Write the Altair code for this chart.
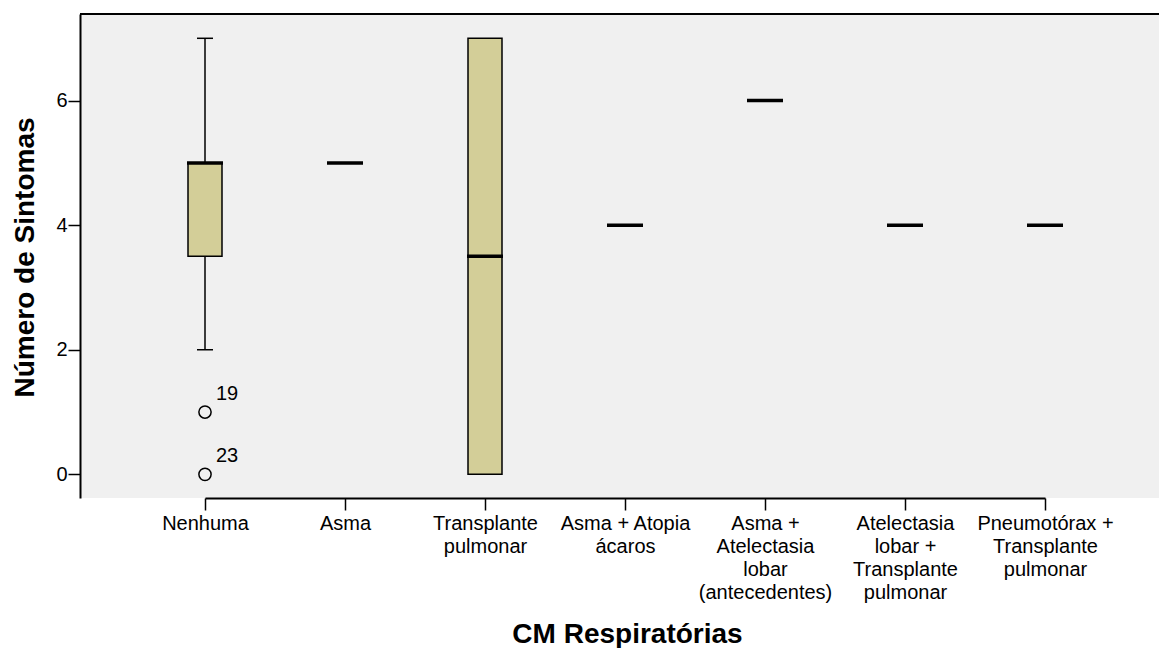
import altair as alt
import pandas as pd

# ---- data ----
categories = [
    "Nenhuma",
    "Asma",
    "Transplante|pulmonar",
    "Asma + Atopia|ácaros",
    "Asma +|Atelectasia|lobar|(antecedentes)",
    "Atelectasia|lobar +|Transplante|pulmonar",
    "Pneumotórax +|Transplante|pulmonar",
]
medians = [5, 5, 3.5, 4, 6, 4, 4]
q1_vals = [3.5, None, 0, None, None, None, None]
q3_vals = [5, None, 7, None, None, None, None]
whisker_lo = [2, None, None, None, None, None, None]
whisker_hi = [7, None, None, None, None, None, None]

outlier_cat = ["Nenhuma", "Nenhuma"]
outlier_val = [1, 0]
outlier_id = ["19", "23"]

FONT = "Liberation Sans"
W, H = 1079, 484

stats = pd.DataFrame({
    "cat": categories, "med": medians, "q1": q1_vals, "q3": q3_vals,
    "lo": whisker_lo, "hi": whisker_hi,
})
outl = pd.DataFrame({"cat": outlier_cat, "val": outlier_val, "id": outlier_id})

xscale = alt.Scale(type="point", range=[125, 965], padding=0)
xaxis = alt.Axis(
    title="CM Respiratórias", titleFont=FONT, titleFontSize=28, titleFontWeight="bold",
    titleColor="black", titleX=547, titleY=144, titleBaseline="alphabetic",
    labelFont=FONT, labelFontSize=20, labelColor="black", labelAngle=0,
    labelExpr="split(datum.label, '|')", labelLineHeight=23, labelBaseline="top",
    labelPadding=3, tickColor="black", tickSize=12, tickWidth=1.5,
    domainColor="black", domainWidth=2, grid=False,
)
yscale = alt.Scale(domain=[-0.38, 7.39], nice=False, zero=False)
yaxis = alt.Axis(
    title="Número de Sintomas", titleFont=FONT, titleFontSize=28, titleFontWeight="bold",
    titleColor="black", titleX=-47, titleY=243, titleAngle=-90, titleAlign="center",
    titleBaseline="alphabetic",
    values=[0, 2, 4, 6], labelFont=FONT, labelFontSize=20, labelColor="black",
    labelPadding=1, tickColor="black", tickSize=12, tickWidth=1.5,
    domainColor="black", domainWidth=2, grid=False,
)


def X():
    return alt.X("cat:N", sort=categories, scale=xscale, axis=xaxis)


def Y(field):
    return alt.Y(field, type="quantitative", scale=yscale, axis=yaxis)


base = alt.Chart(stats)

whisk_low = base.mark_rule(color="black", strokeWidth=1.5, opacity=1).encode(x=X(), y=Y("lo"), y2="q1")
whisk_high = base.mark_rule(color="black", strokeWidth=1.5, opacity=1).encode(x=X(), y=Y("q3"), y2="hi")
cap_low = base.mark_tick(color="black", size=16, thickness=1.5, opacity=1).encode(x=X(), y=Y("lo"))
cap_high = base.mark_tick(color="black", size=16, thickness=1.5, opacity=1).encode(x=X(), y=Y("hi"))
boxes = base.mark_bar(size=34, fill="#D3CE98", stroke="black", strokeWidth=1.5, opacity=1).encode(
    x=X(), y=Y("q1"), y2="q3")
med = base.mark_tick(color="black", size=36, thickness=3.5, opacity=1).encode(x=X(), y=Y("med"))

pts = alt.Chart(outl).mark_point(shape="circle", size=150, filled=False, stroke="black",
                                 strokeWidth=1.5, opacity=1).encode(x=X(), y=Y("val"))
lbl = alt.Chart(outl).mark_text(align="left", baseline="alphabetic", dx=11, dy=-12,
                                font=FONT, fontSize=20, color="black").encode(
    x=X(), y=Y("val"), text="id:N")

top = alt.Chart(pd.DataFrame({"a": [0]})).mark_rule(color="black", strokeWidth=2).encode(
    x=alt.value(0), x2=alt.value(W), y=alt.value(0))

chart = alt.layer(whisk_low, whisk_high, cap_low, cap_high, boxes, med, pts, lbl, top).properties(
    width=W, height=H,
    autosize=alt.AutoSizeParams(type="none"),
    padding={"left": 80, "top": 14, "right": 0, "bottom": 150},
    background="white",
).configure_view(fill="#F0F0F0", stroke=None)

chart.save("out.html", embed_options={"renderer": "svg", "actions": False})
